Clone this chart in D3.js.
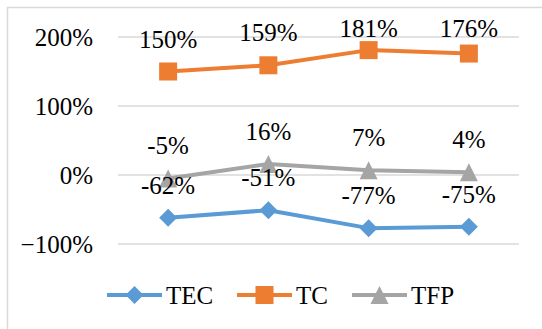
<!DOCTYPE html>
<html>
<head>
<meta charset="utf-8">
<script src="https://cdn.jsdelivr.net/npm/d3@7"></script>
<style>
  body { margin: 0; background: #fff; }
</style>
</head>
<body>
<div id="chart"></div>
<script>
// data
var categories = ["1", "2", "3", "4"];
var tecValues = [-62, -51, -77, -75];
var tcValues = [150, 159, 181, 176];
var tfpValues = [-5, 16, 7, 4];
var yTicks = [-100, 0, 100, 200];

var series = [
    {name: "TEC", values: tecValues, color: "#5B9BD5", marker: "diamond"},
    {name: "TC", values: tcValues, color: "#ED7D31", marker: "square"},
    {name: "TFP", values: tfpValues, color: "#A5A5A5", marker: "triangle"}
];

var FONT = "'Liberation Serif', 'DejaVu Serif', serif";
var w = 542, h = 329;
var svg = d3.select("#chart").append("svg")
    .attr("width", w).attr("height", h)
    .attr("font-family", FONT);

// chart border
svg.append("rect")
    .attr("x", 7.5).attr("y", 7.5)
    .attr("width", 545).attr("height", 340)
    .attr("fill", "none").attr("stroke", "#D9D9D9").attr("stroke-width", 1.5);

var x = d3.scalePoint().domain(categories).range([118, 519]).padding(0.5);
var y = d3.scaleLinear().domain([-100, 200]).range([244, 37]);

/* gridlines */
svg.append("g").selectAll("line")
    .data(yTicks)
    .enter()
    .append("line")
    .attr("x1", 118).attr("x2", 519)
    .attr("y1", function(d) { return y(d); })
    .attr("y2", function(d) { return y(d); })
    .attr("stroke", "#D9D9D9").attr("stroke-width", 1.5);

/* y axis labels */
var fmt = d3.format(".0%");
svg.append("g").selectAll("text")
    .data(yTicks)
    .enter()
    .append("text")
    .attr("x", 93)
    .attr("y", function(d) { return y(d) + 9; })
    .attr("text-anchor", "end")
    .attr("font-family", FONT)
    .attr("font-size", "25px")
    .attr("fill", "#000")
    .text(function(d) { return fmt(d / 100); });

function markerPath(type, size) {
    var s = size / 2;
    if (type == "diamond") return "M0," + (-s) + "L" + s + ",0L0," + s + "L" + (-s) + ",0Z";
    if (type == "square") return "M" + (-s) + "," + (-s) + "h" + size + "v" + size + "h" + (-size) + "Z";
    return "M0," + (-s) + "L" + s + "," + s + "L" + (-s) + "," + s + "Z";
}

var line = d3.line()
    .x(function(d, i) { return x(categories[i]); })
    .y(function(d) { return y(d); });

/* lines and markers */
series.forEach(function(s) {
    var g = svg.append("g");
    g.append("path")
        .attr("d", line(s.values))
        .attr("fill", "none")
        .attr("stroke", s.color)
        .attr("stroke-width", 4)
        .attr("stroke-linejoin", "round");
    g.selectAll("path.m")
        .data(s.values)
        .enter()
        .append("path")
        .attr("class", "m")
        .attr("d", markerPath(s.marker, 18))
        .attr("transform", function(d, i) { return "translate(" + x(categories[i]) + "," + y(d) + ")"; })
        .attr("fill", s.color);
});

/* data labels - kept inside the plot area at the top, like Excel does */
series.forEach(function(s) {
    svg.append("g").selectAll("text")
        .data(s.values)
        .enter()
        .append("text")
        .attr("x", function(d, i) { return x(categories[i]); })
        .attr("y", function(d) { return Math.max(y(d) - 24, 37); })
        .attr("text-anchor", "middle")
        .attr("font-family", FONT)
        .attr("font-size", "25px")
        .attr("fill", "#000")
        .text(function(d) { return d + "%"; });
});

/* legend */
var legendX = [107, 237, 352];
var legend = svg.append("g");
series.forEach(function(s, i) {
    var lg = legend.append("g").attr("transform", "translate(" + legendX[i] + ",295)");
    lg.append("line")
        .attr("x1", 0).attr("x2", 55)
        .attr("stroke", s.color).attr("stroke-width", 4);
    lg.append("path")
        .attr("d", markerPath(s.marker, 18))
        .attr("transform", "translate(27.5,0)")
        .attr("fill", s.color);
    lg.append("text")
        .attr("x", 59).attr("y", 9)
        .attr("font-family", FONT)
        .attr("font-size", "25px")
        .attr("fill", "#000")
        .text(s.name);
});
</script>
</body>
</html>
